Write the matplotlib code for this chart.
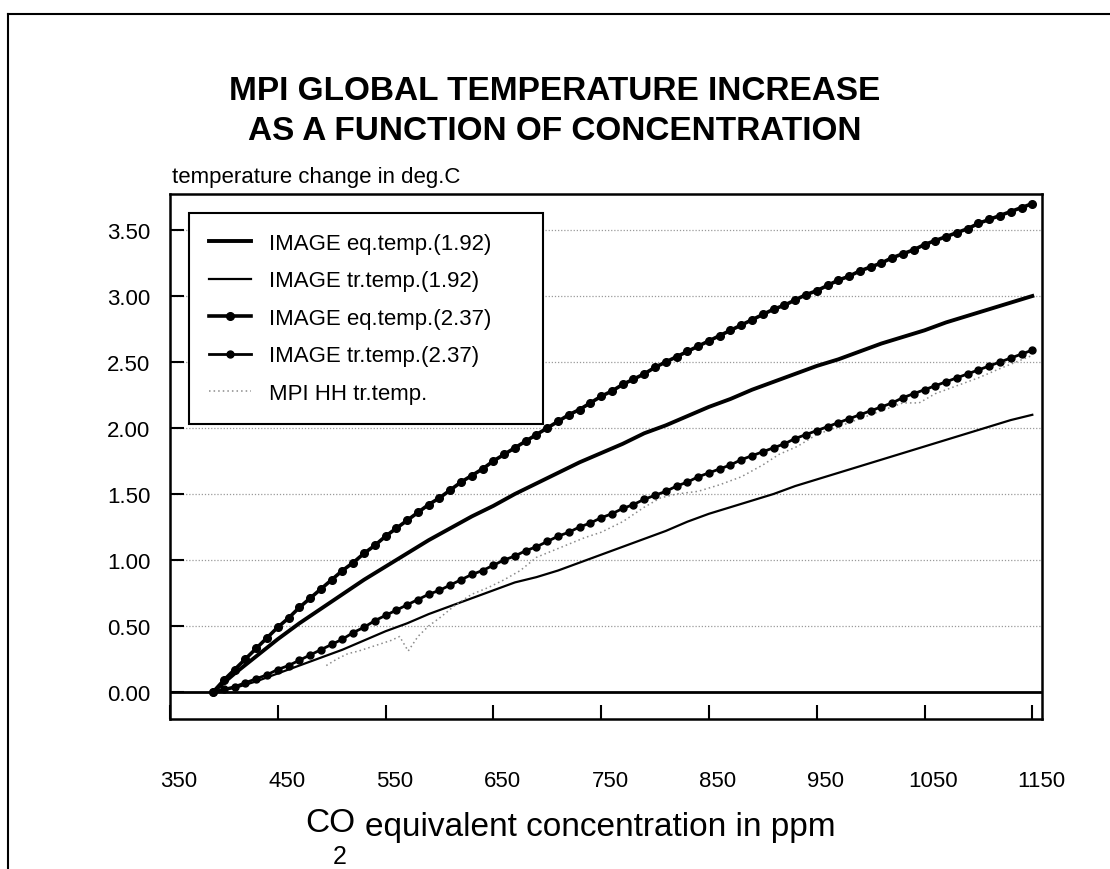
import matplotlib
matplotlib.use("Agg")
import matplotlib.pyplot as plt
import matplotlib.transforms as mtransforms
from matplotlib.lines import Line2D

plt.rcParams['font.family'] = ['Liberation Sans', 'DejaVu Sans']

# IMAGE runs, fine grid (the beaded series)
conc_fine = [390, 400, 410, 420, 430, 440, 450, 460, 470, 480, 490, 500, 510, 520, 530,
             540, 550, 560, 570, 580, 590, 600, 610, 620, 630, 640, 650, 660, 670, 680,
             690, 700, 710, 720, 730, 740, 750, 760, 770, 780, 790, 800, 810, 820, 830,
             840, 850, 860, 870, 880, 890, 900, 910, 920, 930, 940, 950, 960, 970, 980,
             990, 1000, 1010, 1020, 1030, 1040, 1050, 1060, 1070, 1080, 1090, 1100, 1110,
             1120, 1130, 1140, 1150]
eq_237 = [0.00, 0.09, 0.17, 0.25, 0.33, 0.41, 0.49, 0.56, 0.64, 0.71, 0.78, 0.85, 0.92, 0.98, 1.05,
          1.11, 1.18, 1.24, 1.30, 1.36, 1.42, 1.47, 1.53, 1.59, 1.64, 1.69, 1.75, 1.80, 1.85, 1.90,
          1.95, 2.00, 2.05, 2.10, 2.14, 2.19, 2.24, 2.28, 2.33, 2.37, 2.41, 2.46, 2.50, 2.54, 2.58,
          2.62, 2.66, 2.70, 2.74, 2.78, 2.82, 2.86, 2.90, 2.93, 2.97, 3.01, 3.04, 3.08, 3.12, 3.15,
          3.19, 3.22, 3.25, 3.29, 3.32, 3.35, 3.39, 3.42, 3.45, 3.48, 3.51, 3.55, 3.58,
          3.61, 3.64, 3.67, 3.70]
tr_237 = [0.00, 0.02, 0.04, 0.07, 0.10, 0.13, 0.17, 0.20, 0.24, 0.28, 0.32, 0.36, 0.40, 0.45, 0.49,
          0.54, 0.58, 0.62, 0.66, 0.70, 0.74, 0.77, 0.81, 0.85, 0.89, 0.92, 0.96, 1.00, 1.03, 1.07,
          1.10, 1.14, 1.18, 1.21, 1.25, 1.28, 1.32, 1.35, 1.39, 1.42, 1.46, 1.49, 1.52, 1.56, 1.59,
          1.63, 1.66, 1.69, 1.72, 1.76, 1.79, 1.82, 1.85, 1.88, 1.92, 1.95, 1.98, 2.01, 2.04, 2.07,
          2.10, 2.13, 2.16, 2.19, 2.23, 2.26, 2.29, 2.32, 2.35, 2.38, 2.41, 2.44, 2.47,
          2.50, 2.53, 2.56, 2.59]

# IMAGE runs, coarse grid (plain lines)
conc_coarse = [390, 410, 430, 450, 470, 490, 510, 530, 550, 570, 590, 610, 630, 650, 670,
               690, 710, 730, 750, 770, 790, 810, 830, 850, 870, 890, 910, 930, 950, 970,
               990, 1010, 1030, 1050, 1070, 1090, 1110, 1130, 1150]
eq_192 = [0.00, 0.14, 0.27, 0.40, 0.52, 0.63, 0.74, 0.85, 0.95, 1.05, 1.15, 1.24, 1.33, 1.41, 1.50,
          1.58, 1.66, 1.74, 1.81, 1.88, 1.96, 2.02, 2.09, 2.16, 2.22, 2.29, 2.35, 2.41, 2.47, 2.52,
          2.58, 2.64, 2.69, 2.74, 2.80, 2.85, 2.90, 2.95, 3.00]
tr_192 = [0.00, 0.03, 0.08, 0.14, 0.20, 0.26, 0.32, 0.39, 0.46, 0.52, 0.59, 0.65, 0.71, 0.77, 0.83,
          0.87, 0.92, 0.98, 1.04, 1.10, 1.16, 1.22, 1.29, 1.35, 1.40, 1.45, 1.50, 1.56, 1.61, 1.66,
          1.71, 1.76, 1.81, 1.86, 1.91, 1.96, 2.01, 2.06, 2.10]

# MPI HH transient run
mpi_conc = [495, 505, 515, 525, 540, 555, 563, 571, 580, 590, 600, 615, 630, 645, 660,
            675, 690, 705, 720, 735, 750, 770, 790, 805, 820, 840, 860, 880, 900, 915,
            932, 950, 970, 990, 1010, 1030, 1045, 1060, 1080, 1100, 1120, 1135, 1150]
mpi_temp = [0.20, 0.25, 0.29, 0.31, 0.35, 0.39, 0.42, 0.31, 0.42, 0.50, 0.56, 0.66, 0.74, 0.79, 0.85,
            0.92, 1.02, 1.07, 1.12, 1.17, 1.21, 1.29, 1.40, 1.47, 1.50, 1.52, 1.57, 1.63, 1.72, 1.80,
            1.86, 1.95, 2.01, 2.07, 2.13, 2.19, 2.19, 2.26, 2.32, 2.38, 2.45, 2.50, 2.55]

x_ticks = [350, 450, 550, 650, 750, 850, 950, 1050, 1150]
y_ticks = [0.0, 0.5, 1.0, 1.5, 2.0, 2.5, 3.0, 3.5]

fig = plt.figure(figsize=(11.1, 8.7), dpi=100)
ax = fig.add_axes([170 / 1110, 1 - 720 / 870, 872 / 1110, 525 / 870])

# grid + zero line
for yv in y_ticks[1:]:
    ax.axhline(yv, color='#9a9a9a', lw=0.9, ls=(0, (1, 1.5)), zorder=1)
ax.axhline(0, color='k', lw=2, zorder=2)

ax.plot(conc_coarse, eq_192, color='k', lw=2.8, label='IMAGE eq.temp.(1.92)', zorder=3)
ax.plot(conc_coarse, tr_192, color='k', lw=1.6, label='IMAGE tr.temp.(1.92)', zorder=3)
ax.plot(conc_fine, eq_237, color='k', lw=2.6, marker='o', ms=5.5,
        label='IMAGE eq.temp.(2.37)', zorder=4)
ax.plot(conc_fine, tr_237, color='k', lw=2.0, marker='o', ms=5,
        label='IMAGE tr.temp.(2.37)', zorder=4)
ax.plot(mpi_conc, mpi_temp, color='#8a8a8a', lw=1.1, ls=(0, (1, 2)),
        label='MPI HH tr.temp.', zorder=3)

ax.set_xlim(350, 1159)
ax.set_ylim(-0.205, 3.773)

ax.set_xticks(x_ticks)
ax.set_xticklabels([str(v) for v in x_ticks])
ax.set_yticks(y_ticks)
ax.set_yticklabels([f"{v:.2f}" for v in y_ticks])
ax.tick_params(axis='x', direction='in', length=10, width=1.5, pad=37, labelsize=16)
ax.tick_params(axis='y', direction='in', length=10, width=1.5, pad=14, labelsize=16)
offset = mtransforms.ScaledTranslation(9 / 100, 0, fig.dpi_scale_trans)
for lab in ax.get_xticklabels():
    lab.set_transform(lab.get_transform() + offset)

for sp in ax.spines.values():
    sp.set_linewidth(1.8)

# legend box stretched to the reference width
leg = ax.legend(loc='upper left', bbox_to_anchor=(19 / 872, 0, 354 / 872, 1 - 19 / 525),
                mode='expand', borderaxespad=0,
                fontsize=16, frameon=True, fancybox=False, handlelength=1.9,
                handletextpad=0.8, labelspacing=0.74, borderpad=0.9)
leg.get_frame().set_edgecolor('k')
leg.get_frame().set_linewidth(1.5)
leg.get_frame().set_alpha(1)

# titles and labels
fig.text(0.5, 1 - 92 / 870, "MPI GLOBAL TEMPERATURE INCREASE", ha='center', va='center',
         fontsize=24, fontweight='bold')
fig.text(0.5, 1 - 131 / 870, "AS A FUNCTION OF CONCENTRATION", ha='center', va='center',
         fontsize=24, fontweight='bold')
fig.text(172 / 1110, 1 - 177 / 870, "temperature change in deg.C", ha='left', va='center',
         fontsize=16)
fig.text(305 / 1110, 1 - 824 / 870, "CO", ha='left', va='center', fontsize=24)
fig.text(333 / 1110, 1 - 857 / 870, "2", ha='left', va='center', fontsize=18)
fig.text(365 / 1110, 1 - 828 / 870, "equivalent concentration in ppm", ha='left', va='center',
         fontsize=24)

# outer frame of the page
fig.add_artist(Line2D([8 / 1110, 1], [1 - 15 / 870, 1 - 15 / 870], transform=fig.transFigure,
                      color='k', lw=1.5))
fig.add_artist(Line2D([8 / 1110, 8 / 1110], [0, 1 - 15 / 870], transform=fig.transFigure,
                      color='k', lw=1.5))

plt.savefig("out.png", dpi=100)
